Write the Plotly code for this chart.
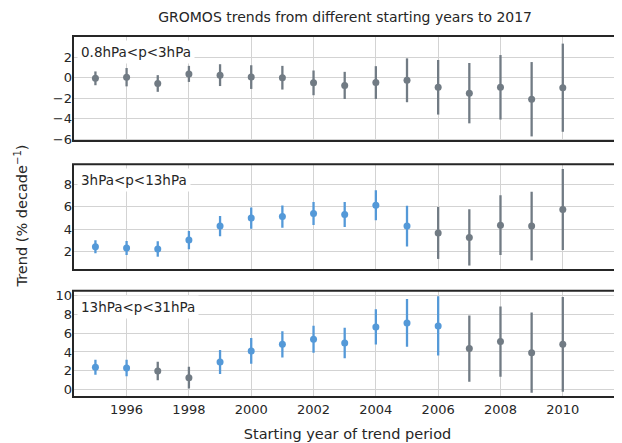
import plotly.graph_objects as go

years = list(range(1995, 2011))

# Panel 1: 0.8hPa<p<3hPa
p1_val = [-0.06, 0.05, -0.56, 0.37, 0.25, 0.06, 0.0, -0.50, -0.75, -0.47, -0.25, -0.93, -1.50, -0.93, -2.09, -0.97]
p1_err = [0.67, 0.89, 0.81, 0.78, 1.06, 1.15, 1.15, 1.20, 1.32, 1.59, 2.13, 2.65, 2.93, 3.13, 3.61, 4.28]
p1_sig = [0] * 16

# Panel 2: 3hPa<p<13hPa
p2_val = [2.44, 2.33, 2.24, 3.03, 4.28, 4.99, 5.13, 5.40, 5.31, 6.14, 4.28, 3.66, 3.27, 4.36, 4.28, 5.75]
p2_err = [0.58, 0.62, 0.69, 0.81, 0.90, 0.95, 0.99, 1.03, 1.12, 1.34, 1.82, 2.31, 2.51, 2.66, 3.06, 3.61]
p2_sig = [1] * 11 + [0] * 5

# Panel 3: 13hPa<p<31hPa
p3_val = [2.36, 2.29, 1.96, 1.25, 2.93, 4.11, 4.82, 5.36, 4.96, 6.68, 7.11, 6.79, 4.36, 5.11, 3.93, 4.82]
p3_err = [0.80, 0.89, 1.00, 1.16, 1.29, 1.375, 1.41, 1.45, 1.63, 1.89, 2.55, 3.18, 3.54, 3.75, 4.29, 5.07]
p3_sig = [1, 1, 0, 0, 1, 1, 1, 1, 1, 1, 1, 1, 0, 0, 0, 0]

labels = ["0.8hPa<p<3hPa", "3hPa<p<13hPa", "13hPa<p<31hPa"]
yranges = [[-6.15, 4.05], [0.37, 9.8], [-0.82, 10.54]]
ytickvals = [[-6, -4, -2, 0, 2], [2, 4, 6, 8], [0, 2, 4, 6, 8, 10]]
xtickvals = list(range(1996, 2011, 2))
domains = [[0.709, 1.0], [0.352, 0.645], [0.0, 0.294]]

BLUE = "#5499d8"
GREY = "#717b84"
FONT = "DejaVu Sans"
TXT = "#262626"

fig = go.Figure()
panels = [(p1_val, p1_err, p1_sig), (p2_val, p2_err, p2_sig), (p3_val, p3_err, p3_sig)]
for i, (vals, errs, sig) in enumerate(panels):
    yref = "y" if i == 0 else f"y{i+1}"
    for flag, col in [(0, GREY), (1, BLUE)]:
        xs = [y for y, s in zip(years, sig) if s == flag]
        vs = [v for v, s in zip(vals, sig) if s == flag]
        es = [e for e, s in zip(errs, sig) if s == flag]
        if not xs:
            continue
        fig.add_trace(go.Scatter(
            x=xs, y=vs, mode="markers", yaxis=yref, xaxis="x",
            marker=dict(color=col, size=7),
            error_y=dict(type="data", array=es, symmetric=True, color=col, thickness=2.3, width=0),
            showlegend=False, cliponaxis=False,
        ))

axis_common = dict(
    showgrid=True, gridcolor="#d3d3d3", gridwidth=1,
    showline=False, zeroline=False, ticks="",
    tickfont=dict(family=FONT, size=13, color=TXT),
)

# The page body has an 8px margin; margins below compensate for it.
layout = dict(
    width=622, height=443,
    margin=dict(l=65, r=8, t=28, b=54, autoexpand=False),
    plot_bgcolor="white", paper_bgcolor="white",
    font=dict(family=FONT, color=TXT),
    title=dict(text="GROMOS trends from different starting years to 2017",
               x=0.542, xanchor="center", y=0.98, yanchor="middle",
               font=dict(family=FONT, size=14, color=TXT)),
    xaxis=dict(range=[1994.28, 2011.9], tickvals=xtickvals, ticklabelstandoff=3,
               anchor="y3", title=dict(text="Starting year of trend period",
                                       font=dict(family=FONT, size=14.5), standoff=12),
               **axis_common),
    showlegend=False,
)
for i in range(3):
    key = "yaxis" if i == 0 else f"yaxis{i+1}"
    layout[key] = dict(domain=domains[i], range=yranges[i], tickvals=ytickvals[i],
                       anchor="x", **axis_common)
fig.update_layout(**layout)

for i, lab in enumerate(labels):
    yd = "y domain" if i == 0 else f"y{i+1} domain"
    fig.add_shape(type="rect", xref="x domain", yref=yd, x0=0, x1=1, y0=0, y1=1,
                  line=dict(color=TXT, width=2), fillcolor="rgba(0,0,0,0)", layer="above")
    fig.add_annotation(text=lab, xref="x domain", yref=yd, x=0.008, y=0.96,
                       xanchor="left", yanchor="top", showarrow=False,
                       bgcolor="white", borderpad=3,
                       font=dict(family=FONT, size=13.5, color=TXT))

fig.add_annotation(text="Trend (% decade<sup>−1</sup>)", xref="paper", yref="paper",
                   x=-0.0965, y=0.5, xanchor="center", yanchor="middle", textangle=-90,
                   showarrow=False, font=dict(family=FONT, size=14.5, color=TXT))

fig.write_html("out.html")
